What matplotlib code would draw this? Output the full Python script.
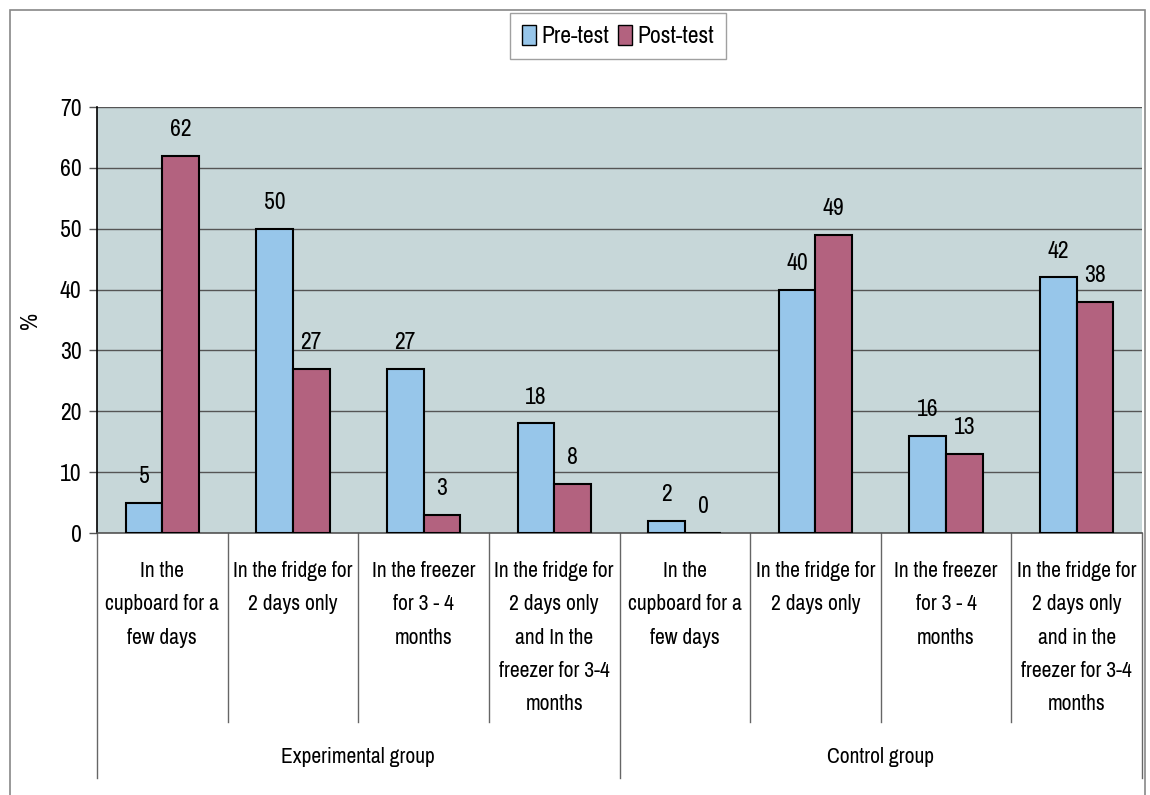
import numpy as np
import matplotlib
matplotlib.use("Agg")
import matplotlib.pyplot as plt
from matplotlib.patches import Rectangle, Patch

plt.rcParams['font.family'] = ['Archivo Narrow', 'Liberation Sans', 'DejaVu Sans']

# data
categories = [
    "In the\ncupboard for a\nfew days",
    "In the fridge for\n2 days only",
    "In the freezer\nfor 3 - 4\nmonths",
    "In the fridge for\n2 days only\nand In the\nfreezer for 3-4\nmonths",
    "In the\ncupboard for a\nfew days",
    "In the fridge for\n2 days only",
    "In the freezer\nfor 3 - 4\nmonths",
    "In the fridge for\n2 days only\nand in the\nfreezer for 3-4\nmonths",
]
groups = ["Experimental group", "Control group"]
pre_test = [5, 50, 27, 18, 2, 40, 16, 42]
post_test = [62, 27, 3, 8, 0, 49, 13, 38]
yticks = [0, 10, 20, 30, 40, 50, 60, 70]

blue = '#97C6EA'
red = '#B3627F'
plot_bg = '#C7D7D9'

W, H = 1150, 795
fig = plt.figure(figsize=(W / 100, H / 100), dpi=100)
fig.patch.set_facecolor('white')

# outer frame
fig.add_artist(Rectangle((10 / W, -0.01), (1145 - 10) / W, (H - 10) / H + 0.01,
                         transform=fig.transFigure, fill=False, edgecolor='#888888', lw=1.2))

left, right, top, bottom = 97, 1142, 107, 533
ax = fig.add_axes([left / W, 1 - bottom / H, (right - left) / W, (bottom - top) / H])
ax.set_facecolor(plot_bg)

n = len(categories)
x = np.arange(n)
bw = 0.28
ax.bar(x - bw / 2, pre_test, bw, color=blue, edgecolor='black', lw=1.5, zorder=3, label='Pre-test')
ax.bar(x + bw / 2, post_test, bw, color=red, edgecolor='black', lw=1.5, zorder=3, label='Post-test')

fs = 15.5
nfs = 17
for xi, v in zip(x, pre_test):
    ax.annotate(str(v), (xi - bw / 2, v), xytext=(0, 19), textcoords='offset points',
                ha='center', va='center', fontsize=nfs)
for xi, v in zip(x, post_test):
    ax.annotate(str(v), (xi + bw / 2, v), xytext=(0, 19), textcoords='offset points',
                ha='center', va='center', fontsize=nfs)

ax.set_xlim(-0.5, n - 0.5)
ax.set_ylim(0, 70)
ax.set_yticks(yticks)
ax.set_yticklabels([str(t) for t in yticks], fontsize=nfs)
ax.yaxis.grid(True, color='#555555', lw=1, zorder=1)
ax.tick_params(axis='y', length=6, width=1, color='#555555', pad=5)
ax.set_xticks([])
for s in ['top', 'right']:
    ax.spines[s].set_visible(False)
ax.spines['left'].set_color('black')
ax.spines['left'].set_linewidth(1.2)
ax.spines['bottom'].set_color('#555555')
ax.spines['bottom'].set_linewidth(1.2)
ax.set_ylabel('%', fontsize=nfs, labelpad=14)

# category table below the axis
ax_h = bottom - top
xt = ax.get_xaxis_transform()
for k in range(n + 1):
    long_line = k % 4 == 0
    y_end = -(778 - bottom) / ax_h if long_line else -(722 - bottom) / ax_h
    ax.plot([k - 0.5, k - 0.5], [0, y_end], transform=xt, color='#666666', lw=1, clip_on=False)
for xi, lab in zip(x, categories):
    ax.text(xi, -(561 - bottom) / ax_h, lab, transform=xt, ha='center', va='top',
            fontsize=fs, linespacing=1.83)
for gi, g in enumerate(groups):
    ax.text(gi * 4 + 1.5, -(757 - bottom) / ax_h, g, transform=xt, ha='center', va='center',
            fontsize=fs)

handles = [Patch(facecolor=blue, edgecolor='black'), Patch(facecolor=red, edgecolor='black')]
leg = fig.legend(handles, ['Pre-test', 'Post-test'], loc='center', bbox_to_anchor=(618 / W, 1 - 36 / H),
                 ncol=2, fontsize=nfs, frameon=True, fancybox=False, edgecolor='#888888',
                 handlelength=0.6, handleheight=0.9, handletextpad=0.2, columnspacing=0.4,
                 borderpad=0.5)
leg.get_frame().set_linewidth(1)

fig.savefig('out.png', dpi=100)
